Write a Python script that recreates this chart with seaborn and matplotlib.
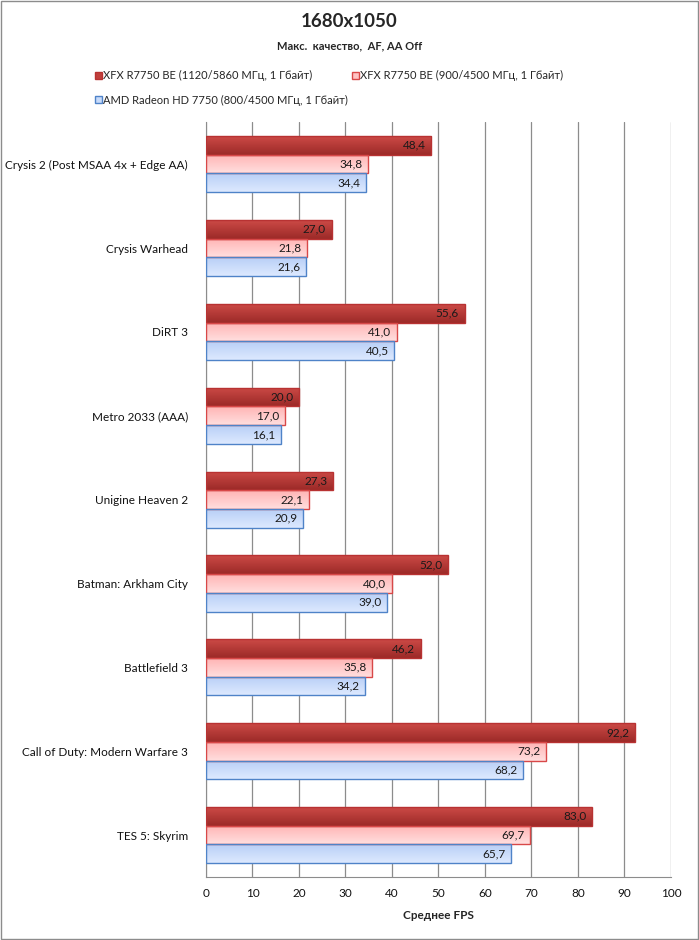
import numpy as np
import pandas as pd
import seaborn as sns
import matplotlib.pyplot as plt
from matplotlib.patches import Patch, Rectangle
from matplotlib.colors import LinearSegmentedColormap

# data
games = ["Crysis 2 (Post MSAA 4x + Edge AA)", "Crysis Warhead", "DiRT 3",
         "Metro 2033 (AAA)", "Unigine Heaven 2", "Batman: Arkham City",
         "Battlefield 3", "Call of Duty: Modern Warfare 3", "TES 5: Skyrim"]
series = ["XFX R7750 BE (1120/5860 МГц, 1 Гбайт)",
          "XFX R7750 BE (900/4500 МГц, 1 Гбайт)",
          "AMD Radeon HD 7750 (800/4500 МГц, 1 Гбайт)"]
fps_oc = [48.4, 27.0, 55.6, 20.0, 27.3, 52.0, 46.2, 92.2, 83.0]
fps_xfx = [34.8, 21.8, 41.0, 17.0, 22.1, 40.0, 35.8, 73.2, 69.7]
fps_amd = [34.4, 21.6, 40.5, 16.1, 20.9, 39.0, 34.2, 68.2, 65.7]
ticks = [0, 10, 20, 30, 40, 50, 60, 70, 80, 90, 100]

df = pd.DataFrame({"game": games * 3,
                   "card": [series[0]] * 9 + [series[1]] * 9 + [series[2]] * 9,
                   "fps": fps_oc + fps_xfx + fps_amd})

fill = ["#c0403c", "#ffc4c4", "#c8dbfa"]
edge = ["#b83232", "#d84848", "#4f83c8"]
grads = [("#cc4a46", "#9c2a28"), ("#ffb4b4", "#ffdede"), ("#b8cff6", "#dde9ff")]

sns.set_style("white")
plt.rcParams["font.family"] = ["Lato", "DejaVu Sans"]

fig = plt.figure(figsize=(6.99, 9.40), dpi=100)
ax = fig.add_axes([0.2947, 0.067, 0.6652, 0.803])

sns.barplot(data=df, y="game", x="fps", hue="card", hue_order=series,
            palette=fill, orient="h", width=0.67, ax=ax, legend=False,
            saturation=1, edgecolor="none")

# colour each bar with a vertical gradient and a thin border
for ci, cont in enumerate(ax.containers):
    cmap = LinearSegmentedColormap.from_list("g%d" % ci, grads[ci])
    for bar, val in zip(cont, cont.datavalues):
        x0, y0 = bar.get_x(), bar.get_y()
        w, h = bar.get_width(), bar.get_height()
        img = ax.imshow(np.linspace(0, 1, 32).reshape(-1, 1), cmap=cmap,
                        extent=[x0, x0 + w, y0 + h, y0], origin="upper",
                        aspect="auto", zorder=2)
        img.set_clip_path(bar)
        ax.add_patch(Rectangle((x0, y0), w, h, fill=False, edgecolor=edge[ci],
                               linewidth=1.0, zorder=3))
        ax.text(x0 + w - 1.2, y0 + h / 2, f"{val:.1f}".replace(".", ","),
                ha="right", va="center", fontsize=8.5, color="#1a1a1a", zorder=4)

ax.set_xlim(0, 100)
ax.set_ylim(len(games) - 0.5, -0.5)
ax.set_xticks(ticks)
ax.xaxis.grid(True, color="#8c8c8c", linewidth=0.9)
ax.set_axisbelow(True)
for s in ["top", "right"]:
    ax.spines[s].set_visible(False)
ax.spines["left"].set_color("#8c8c8c")
ax.spines["bottom"].set_color("#8c8c8c")
ax.tick_params(axis="both", length=0, labelsize=8.5, colors="#111111")
ax.tick_params(axis="y", pad=13)
ax.tick_params(axis="x", pad=8)
ax.set_ylabel("")
ax.set_xlabel("Среднее FPS", fontsize=8.5, fontweight="bold", labelpad=8)

fig.text(0.5, 0.977, "1680x1050", ha="center", va="center",
         fontsize=13.5, fontweight="bold")
fig.text(0.5, 0.951, "Макс.  качество,  AF, AA Off", ha="center", va="center",
         fontsize=8, fontweight="bold")

# legend filled column-wise, so order gives rows: [0, 1] then [2]
order = [0, 2, 1]
handles = [Patch(facecolor=fill[i], edgecolor=edge[i], label=series[i]) for i in order]
fig.legend(handles=handles, loc="upper left", bbox_to_anchor=(0.13, 0.93),
           ncol=2, frameon=False, fontsize=8, handlelength=0.6, handleheight=0.6,
           handletextpad=0.1, columnspacing=0.4, labelspacing=1.2, borderaxespad=0)

fig.patches.append(Rectangle((0.001, 0.001), 0.998, 0.998, transform=fig.transFigure,
                             fill=False, edgecolor="#8c8c8c", linewidth=1))

fig.savefig("out.png", dpi=100)
